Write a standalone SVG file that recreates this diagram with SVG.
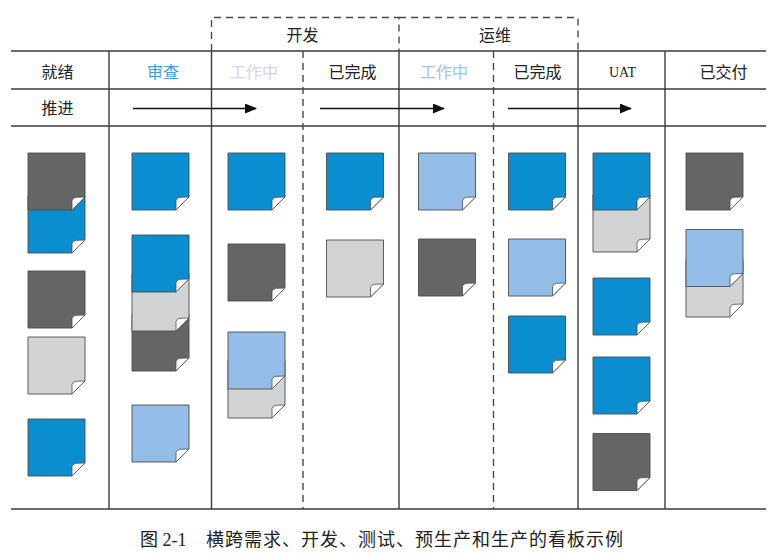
<svg xmlns="http://www.w3.org/2000/svg" xmlns:xlink="http://www.w3.org/1999/xlink" width="771" height="554" viewBox="0 0 771 554">
<style>
.ln{stroke:#3a3a3a;stroke-width:1.4;fill:none}
.dash{stroke:#4a4a4a;stroke-width:1.4;fill:none;stroke-dasharray:7 5}
.hd{font-family:"Noto Sans CJK SC","Noto Sans",sans-serif;font-size:16px;text-anchor:middle;fill:#222}
.cap{font-family:"Liberation Serif","Noto Sans CJK SC",serif;font-size:18px;fill:#222}
.body{stroke:#4d4d4d;stroke-width:0.9}
.fold{fill:#ffffff;stroke:#4d4d4d;stroke-width:0.8}
.blue{fill:#0b8ecf}
.dark{fill:#646567}
.grey{fill:#d2d3d5}
.lblue{fill:#93bde7}
.arr{stroke:#111;stroke-width:1.3;fill:none}
</style>
<defs>
<path id="cb" d="M0,0 H57 V44 L44,57 H0 Z"/>
<path id="cf" d="M44,57 V47.5 Q45,44.5 48,44.3 L57,44 Z"/>
<marker id="ah" viewBox="0 0 12 10" refX="11" refY="5" markerWidth="12" markerHeight="10" markerUnits="userSpaceOnUse" orient="auto">
<path d="M0,0 L12,5 L0,10 Z" fill="#111"/>
</marker>
</defs>

<g id="grid">
<line class="ln" x1="11" y1="51" x2="766" y2="51"/>
<line class="ln" x1="11" y1="89" x2="766" y2="89"/>
<line class="ln" x1="11" y1="126" x2="766" y2="126"/>
<line class="ln" x1="11" y1="509" x2="766" y2="509"/>
<line class="ln" x1="109" y1="51" x2="109" y2="509"/>
<line class="ln" x1="211.5" y1="51" x2="211.5" y2="509"/>
<line class="ln" x1="399" y1="51" x2="399" y2="509"/>
<line class="ln" x1="578" y1="51" x2="578" y2="509"/>
<line class="ln" x1="665" y1="51" x2="665" y2="509"/>
<line class="dash" x1="303" y1="51" x2="303" y2="509"/>
<line class="dash" x1="493.5" y1="51" x2="493.5" y2="509"/>
</g>

<g id="group-dev">
<path class="dash" d="M211.5,51 V17.5 H399 V51"/>
<text class="hd" x="302.5" y="40.5">开发</text>
</g>
<g id="group-ops">
<path class="dash" d="M399,17.5 H578 V51"/>
<text class="hd" x="495" y="40.5">运维</text>
</g>

<g id="headers">
<text class="hd" x="57.5" y="77.5">就绪</text>
<text class="hd" x="163" y="77.5" style="fill:#3b9ed8">审查</text>
<text class="hd" x="254" y="77.5" style="fill:#d6d6d6">工作中</text>
<text class="hd" x="352.5" y="77.5">已完成</text>
<text class="hd" x="444" y="77.5" style="fill:#9cc6ea">工作中</text>
<text class="hd" x="537.5" y="77.5">已完成</text>
<text class="hd" x="622.5" y="76.5" style="font-family:'Liberation Serif',serif;font-size:14px">UAT</text>
<text class="hd" x="723.5" y="77.5">已交付</text>
<text class="hd" x="57.5" y="113.5">推进</text>
</g>

<g id="connectors">
<line class="arr" x1="133" y1="108.5" x2="256" y2="108.5" marker-end="url(#ah)"/>
<line class="arr" x1="320" y1="108.5" x2="444" y2="108.5" marker-end="url(#ah)"/>
<line class="arr" x1="508" y1="108.5" x2="631" y2="108.5" marker-end="url(#ah)"/>
</g>

<g id="col-ready">
<g id="r2" transform="translate(28,196)"><use href="#cb" class="body blue"/><use href="#cf" class="fold"/></g>
<g id="r1" transform="translate(28,153)"><use href="#cb" class="body dark"/><use href="#cf" class="fold"/></g>
<g id="r3" transform="translate(28,271)"><use href="#cb" class="body dark"/><use href="#cf" class="fold"/></g>
<g id="r4" transform="translate(28,337)"><use href="#cb" class="body grey"/><use href="#cf" class="fold"/></g>
<g id="r5" transform="translate(28,419)"><use href="#cb" class="body blue"/><use href="#cf" class="fold"/></g>
</g>

<g id="col-review">
<g id="v1" transform="translate(132,153)"><use href="#cb" class="body blue"/><use href="#cf" class="fold"/></g>
<g id="v4" transform="translate(132,314)"><use href="#cb" class="body dark"/><use href="#cf" class="fold"/></g>
<g id="v3" transform="translate(132,274)"><use href="#cb" class="body grey"/><use href="#cf" class="fold"/></g>
<g id="v2" transform="translate(132,235)"><use href="#cb" class="body blue"/><use href="#cf" class="fold"/></g>
<g id="v5" transform="translate(132,405)"><use href="#cb" class="body lblue"/><use href="#cf" class="fold"/></g>
</g>

<g id="col-dev-wip">
<g id="d1" transform="translate(228,153)"><use href="#cb" class="body blue"/><use href="#cf" class="fold"/></g>
<g id="d2" transform="translate(228,244)"><use href="#cb" class="body dark"/><use href="#cf" class="fold"/></g>
<g id="d4" transform="translate(228,361)"><use href="#cb" class="body grey"/><use href="#cf" class="fold"/></g>
<g id="d3" transform="translate(228,332)"><use href="#cb" class="body lblue"/><use href="#cf" class="fold"/></g>
</g>

<g id="col-dev-done">
<g id="e1" transform="translate(326.5,153)"><use href="#cb" class="body blue"/><use href="#cf" class="fold"/></g>
<g id="e2" transform="translate(326.5,240)"><use href="#cb" class="body grey"/><use href="#cf" class="fold"/></g>
</g>

<g id="col-ops-wip">
<g id="o1" transform="translate(418.5,153)"><use href="#cb" class="body lblue"/><use href="#cf" class="fold"/></g>
<g id="o2" transform="translate(418.5,239)"><use href="#cb" class="body dark"/><use href="#cf" class="fold"/></g>
</g>

<g id="col-ops-done">
<g id="p1" transform="translate(508.5,153)"><use href="#cb" class="body blue"/><use href="#cf" class="fold"/></g>
<g id="p2" transform="translate(508.5,239)"><use href="#cb" class="body lblue"/><use href="#cf" class="fold"/></g>
<g id="p3" transform="translate(508.5,316)"><use href="#cb" class="body blue"/><use href="#cf" class="fold"/></g>
</g>

<g id="col-uat">
<g id="u2" transform="translate(593,195)"><use href="#cb" class="body grey"/><use href="#cf" class="fold"/></g>
<g id="u1" transform="translate(593,153)"><use href="#cb" class="body blue"/><use href="#cf" class="fold"/></g>
<g id="u3" transform="translate(593,278)"><use href="#cb" class="body blue"/><use href="#cf" class="fold"/></g>
<g id="u4" transform="translate(593,357)"><use href="#cb" class="body blue"/><use href="#cf" class="fold"/></g>
<g id="u5" transform="translate(593,433.5)"><use href="#cb" class="body dark"/><use href="#cf" class="fold"/></g>
</g>

<g id="col-delivered">
<g id="w1" transform="translate(686,153)"><use href="#cb" class="body dark"/><use href="#cf" class="fold"/></g>
<g id="w3" transform="translate(686,260)"><use href="#cb" class="body grey"/><use href="#cf" class="fold"/></g>
<g id="w2" transform="translate(686,229.5)"><use href="#cb" class="body lblue"/><use href="#cf" class="fold"/></g>
</g>

<g id="caption">
<text class="cap" x="140" y="546">图 2-1<tspan x="206" style="letter-spacing:1px">横跨需求、开发、测试、预生产和生产的看板示例</tspan></text>
</g>
</svg>
